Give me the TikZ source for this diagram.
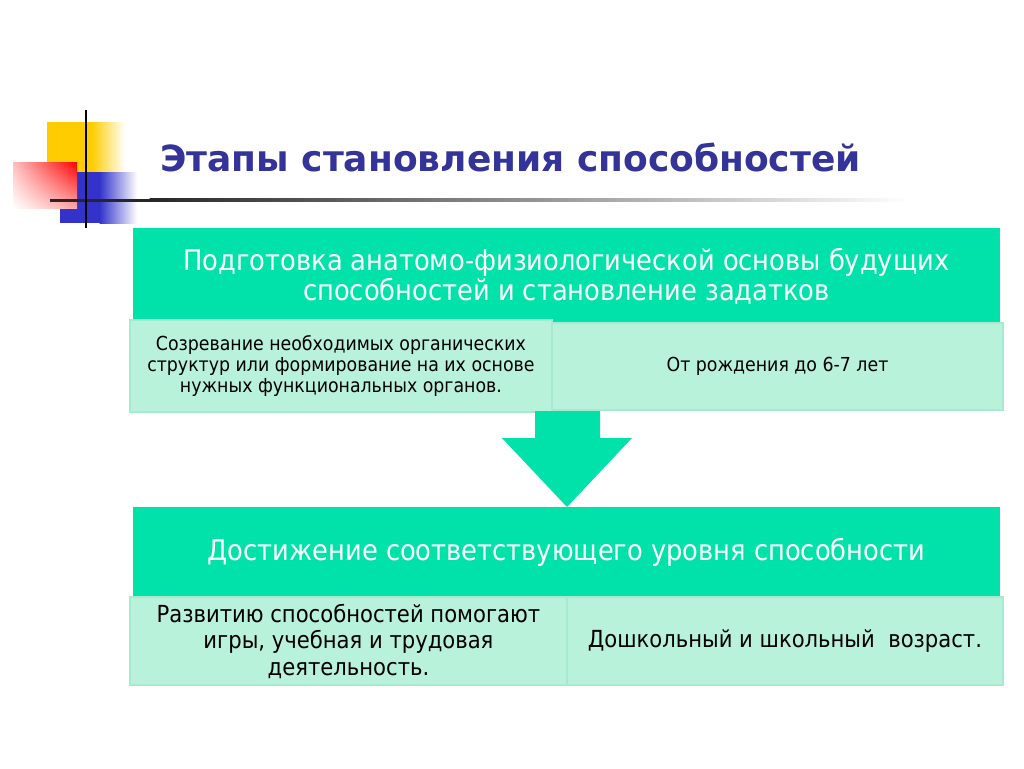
\documentclass[tikz,border=0pt]{standalone}
\usepackage{fontspec}
\usetikzlibrary{shadings}
\setmainfont{DejaVu Sans Condensed}
\newfontfamily\titlefont{DejaVu Sans}
\definecolor{hdr}{RGB}{0,226,170}
\definecolor{cell}{RGB}{184,242,218}
\definecolor{cellline}{RGB}{168,234,208}
\definecolor{ttl}{RGB}{51,51,153}
\definecolor{ylw}{RGB}{255,204,0}
\definecolor{blu}{RGB}{51,51,204}
\definecolor{rd}{RGB}{255,0,0}
\tikzset{
  hdrbox/.style={fill=hdr, draw=none, text=white, align=center, inner sep=0pt,
    font=\fontsize{28.6}{30.5}\selectfont},
  cellbox/.style={fill=cell, draw=cellline, line width=1.5pt, text=black, align=center, inner sep=0pt},
  smalltxt/.style={font=\fontsize{19.3}{21}\selectfont},
  bigtxt/.style={font=\fontsize{23.5}{26.5}\selectfont},
  bigarrow/.style={fill=hdr, draw=none}
}
\begin{document}
\begin{tikzpicture}[x=1pt,y=-1pt]
\useasboundingbox (0,0) rectangle (1024,768);
\fill[white] (0,0) rectangle (1024,768);
% decoration
\fill[ylw] (47,122) rectangle (92,176);
\shade[left color=ylw, right color=white] (91.5,122) rectangle (125,176);
\fill[blu] (60,172) rectangle (100,223);
\shade[left color=blu, right color=white] (99.5,172) rectangle (137,223);
\shade[upper right=rd, upper left=rd!25!white, lower right=rd!35!white, lower left=white] (13,162) rectangle (77,208);
\fill[black!85] (50,198.8) rectangle (150,201.5);
\shade[left color=black!85, right color=white] (149.5,198.8) rectangle (910,201.5);
\draw[black, line width=2pt] (86,110) -- (86,228);
% title
\node[anchor=west, text=ttl, font=\titlefont\bfseries\fontsize{36}{40}\selectfont, inner sep=0pt] (title) at (160,157) {Этапы становления способностей};
% stage 1
\node[hdrbox, minimum width=867pt, minimum height=97pt] (h1) at (566.5,276.5)
  {Подготовка анатомо-физиологической основы будущих\\способностей и становление задатков};
\node[cellbox, smalltxt, minimum width=451pt, minimum height=87pt] (r1) at (777.5,366.5) {От рождения до 6-7 лет};
\node[cellbox, smalltxt, minimum width=422pt, minimum height=92pt] (l1) at (341,366)
  {Созревание необходимых органических\\структур или формирование на их основе\\нужных функциональных органов.};
% arrow
\fill[bigarrow] (535,411) -- (600,411) -- (600,438) -- (632,438) -- (567,507) -- (502,438) -- (535,438) -- cycle;
% stage 2
\node[hdrbox, minimum width=867pt, minimum height=90pt] (h2) at (566.5,552)
  {Достижение соответствующего уровня способности};
\node[cellbox, bigtxt, minimum width=437pt, minimum height=88pt] (l2) at (348.5,641)
  {Развитию способностей помогают\\игры, учебная и трудовая\\деятельность.};
\node[cellbox, bigtxt, minimum width=436pt, minimum height=88pt] (r2) at (785,641)
  {Дошкольный и школьный\ \ возраст.};
\end{tikzpicture}
\end{document}
